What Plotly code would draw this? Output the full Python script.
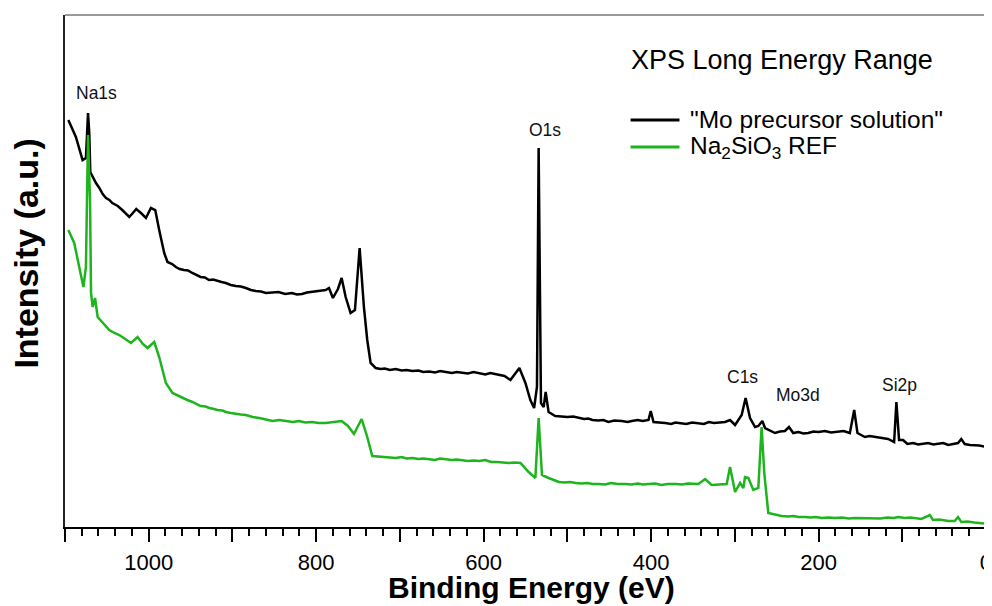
import plotly.graph_objects as go

# ---------------- data ----------------
mo_energy = [1096, 1087, 1079, 1075, 1072.5, 1071, 1069.8, 1067, 1063, 1059, 1055, 1051, 1047, 1043.5,
             1037, 1031.6, 1027, 1023.2, 1019, 1014.9, 1009.3, 1003.3, 997.4, 992.2, 987.5, 981.5, 977.6,
             972, 967.6, 963, 958, 953, 948, 943, 938, 933, 928, 923, 918, 913, 908, 902, 896, 890, 884,
             878, 872, 866, 860, 853, 845, 837, 829, 823, 817, 811, 805,
             797, 788.7, 784.7, 780, 774, 769.6, 764.8, 758.9, 753.7, 748.1, 743, 739, 735, 729, 723, 718,
             712, 705, 698, 692, 685, 678, 672, 665, 658, 652, 645, 638, 632, 626, 619, 612, 605, 598, 592,
             586, 580, 575, 568, 557.3, 550.1, 544.2, 539.7, 536.3, 534.3, 531.5,
             528.3, 525.9, 522.4, 514.4, 507, 500, 493, 487, 480, 475, 470, 463, 457, 451, 444, 435, 428,
             423, 416, 410, 403.1, 400.4, 397.1, 383.2, 376, 371, 365, 358, 351, 343.5, 337, 331, 325, 318,
             311.6, 305.7, 299.7, 291.8, 287.1, 281.8, 275.8, 271.9, 267.1, 263.9, 252, 246,
             240.1, 235.3, 230.2, 224, 218, 212.3, 206, 200, 192.4, 185, 176.5, 170, 162.6, 157.4, 153.5,
             144.7, 139, 132.7, 125, 116.9, 109.7,
             107, 103.8, 99, 93.9, 87, 81, 75, 69, 63, 57.2, 51, 45, 40, 33.4, 29.5, 25.4, 19, 13.5, 8, 2,
             -4.4]
mo_intensity = [407, 390, 367, 369, 414, 394, 355, 350, 344, 339, 333, 329, 327, 324,
                321, 317, 313, 310, 314, 318, 314, 309, 319, 317, 297, 274, 265,
                263, 260, 258, 257, 256.5, 254, 252, 250, 249.5, 247, 247.5, 246, 245, 244, 242, 241, 240.5, 239,
                237, 236, 235.5, 234, 234.5, 235, 233, 234, 232.5, 233, 234.5, 235,
                236, 237, 239, 229, 238, 249, 230, 214, 217, 279, 220, 187, 164, 159, 158, 158.5,
                157, 158, 156.5, 157, 156, 156.5, 155, 155.5, 154.5, 156, 155, 154, 155, 154, 153.5, 155, 154, 152.5, 154,
                153, 152, 151, 147, 159, 144, 127, 119, 140, 379, 124,
                120, 135, 115, 111, 110.5, 110, 110.5, 109, 108, 108.5, 107, 106.5, 107, 105, 106.5, 106, 105,
                106, 107, 106, 107, 116, 105, 104, 103, 104.5, 104, 103, 104.5, 104, 103, 105, 104, 104.5,
                105, 107, 102, 112, 129, 109, 100, 101, 106, 99, 94, 95.5,
                96, 100, 94, 95, 93.5, 94, 95.5, 95, 96, 94.5, 95, 96, 94, 117, 94,
                90, 91, 90, 89.5, 88, 85,
                125, 87, 87, 83, 84, 82.5, 83, 84, 82.5, 83, 84, 82, 83, 84, 88, 83, 82, 82, 81.5, 80.5,
                80]

ref_energy = [1096, 1089, 1083, 1078, 1075, 1072.5, 1070.1, 1068.9, 1067, 1064.1, 1061, 1054, 1047.1, 1041,
              1035.2, 1028, 1021.2, 1013.3, 1007, 1001.4, 993.4, 987.5, 979.5, 971.6, 960, 954, 947.8, 942,
              938, 932, 927.8, 922, 918, 912, 907.9, 902, 896, 890, 884, 876, 868, 860, 852, 844, 836, 828,
              820.5, 813, 805, 797, 788.7, 779, 769.6, 762, 754.9,
              745.7, 739, 733, 726, 720, 713, 705, 698, 692, 685, 678, 672, 665, 658, 652, 645, 638, 632,
              625.8, 619, 612, 605, 598, 591, 584, 577, 570, 563, 556, 546.2,
              538.2, 534.3, 530.3, 522.4, 510, 503, 497, 490, 483, 476, 470, 462.7, 455, 448, 440, 430, 423,
              416, 410, 403, 395, 388, 380, 370, 363, 356, 350, 343.5, 335.5, 327.6, 309.7,
              305.7, 299.7, 293.7, 289.8, 287.8, 283.8, 277.9, 271.9, 268, 264.8, 260, 244, 236, 230, 224,
              216, 210, 203, 196, 188, 180, 172, 164, 156.6, 150, 142, 134, 126, 118, 110,
              104.9, 97, 90, 83, 77.2, 67.1, 63.2, 56, 50, 45, 37.3, 33.4, 29.5, 22, 14, 5.6, -4.4]
ref_intensity = [297, 284, 260, 240, 260, 392, 327, 234, 220, 229, 210, 203, 197, 194,
                 192, 188, 184, 190, 183, 179, 185, 170, 144, 134, 129, 127, 125, 123,
                 121, 120.5, 119, 118, 117, 116.5, 115, 114, 113, 112.5, 112, 110, 109, 107.5, 106, 107, 106, 105,
                 106, 104.5, 105, 104, 104, 105, 106, 101, 93,
                 108, 90, 71, 70.5, 70, 69, 69, 70, 68.5, 69, 68, 68.5, 68, 67, 68.5, 68, 67, 67.5,
                 67, 66, 66.5, 66, 67, 65, 65, 64.5, 64, 64.5, 64, 55,
                 49, 109, 52, 49, 45, 44.5, 45, 44, 43.5, 44, 43, 43, 42.5, 44, 43, 43, 42.5,
                 43.5, 42.5, 43, 43.5, 42, 43, 43, 42.5, 43.5, 43, 43, 48, 42, 43,
                 60, 35, 44, 39, 50, 49, 37, 39, 100, 54, 14, 11, 10.5, 11, 10,
                 10, 9.5, 10, 9, 9.5, 9, 9.5, 8.5, 9, 9, 8.5, 9, 8.5, 9.5, 9,
                 10, 9, 9.5, 8.5, 8, 12, 7, 7.5, 6.5, 6, 6, 10, 5, 5.5, 4.5, 4, 3]

series_names = ['"Mo precursor solution"', 'Na<sub>2</sub>SiO<sub>3</sub> REF']
series_colors = ['#000000', '#1DB41D']

peak_labels = ['Na1s', 'O1s', 'C1s', 'Mo3d', 'Si2p']
peak_label_x = [1062.6, 527.1, 291.0, 224.8, 103.2]
peak_label_y = [434, 397, 150, 132, 142]

tick_values = [0, 100, 200, 300, 400, 500, 600, 700, 800, 900, 1000, 1100]
tick_texts = ['0', '', '200', '', '400', '', '600', '', '800', '', '1000', '']

FONT = 'Liberation Sans, Arial, sans-serif'

fig = go.Figure()
fig.add_trace(go.Scatter(x=mo_energy, y=mo_intensity, mode='lines', name=series_names[0],
                         line=dict(color=series_colors[0], width=2.5), showlegend=False))
fig.add_trace(go.Scatter(x=ref_energy, y=ref_intensity, mode='lines', name=series_names[1],
                         line=dict(color=series_colors[1], width=2.5), showlegend=False))

annotations = []
for t, x, y in zip(peak_labels, peak_label_x, peak_label_y):
    annotations.append(dict(x=x, y=y, xref='x', yref='y', text=t, showarrow=False,
                            font=dict(family=FONT, size=17.5, color='#111')))

# legend block (drawn manually)
annotations.append(dict(x=0.6093, y=0.912, xref='paper', yref='paper', text='XPS Long Energy Range',
                        showarrow=False, xanchor='left', yanchor='middle',
                        font=dict(family=FONT, size=27, color='#000')))
legend_y = [0.795, 0.742]
shapes = []
for name, col, ly in zip(series_names, series_colors, legend_y):
    shapes.append(dict(type='line', xref='paper', yref='paper', x0=0.6114, x1=0.6643, y0=ly, y1=ly,
                       line=dict(color=col, width=3)))
    annotations.append(dict(x=0.674, y=ly, xref='paper', yref='paper', text=name, showarrow=False,
                            xanchor='left', yanchor='middle',
                            font=dict(family=FONT, size=24.5, color='#000')))

# top frame line
shapes.append(dict(type='line', xref='paper', yref='paper', x0=0, x1=1, y0=1, y1=1,
                   line=dict(color='#7a7a7a', width=1.5)))

# axis titles
annotations.append(dict(x=0.5046, y=-0.119, xref='paper', yref='paper', text='<b>Binding Energy (eV)</b>',
                        showarrow=False, xanchor='center', yanchor='middle',
                        font=dict(family=FONT, size=30, color='#000')))
annotations.append(dict(x=-0.0416, y=0.533, xref='paper', yref='paper', text='<b>Intensity (a.u.)</b>',
                        showarrow=False, xanchor='center', yanchor='middle', textangle=-90,
                        font=dict(family=FONT, size=34, color='#000')))

# the page body adds an 8 px margin, so the figure is 8 px smaller on each side
fig.update_layout(
    width=984, height=598,
    margin=dict(l=57, r=0, t=7, b=79),
    paper_bgcolor='white', plot_bgcolor='white',
    annotations=annotations, shapes=shapes,
    showlegend=False,
)
fig.update_xaxes(range=[1100, -4.8], showgrid=False, zeroline=False, showline=True,
                 linecolor='#000', linewidth=1.5, ticks='outside', ticklen=13, tickwidth=1.5,
                 tickcolor='#000', tickmode='array', tickvals=tick_values, ticktext=tick_texts,
                 ticklabelstandoff=2, ticklabeloverflow='allow',
                 tickfont=dict(family=FONT, size=22, color='#000'),
                 minor=dict(dtick=20, tick0=0, ticks='outside', ticklen=7, tickwidth=1.5, tickcolor='#000'))
fig.update_yaxes(range=[0, 512], showgrid=False, zeroline=False, showline=True,
                 linecolor='#222', linewidth=1.5, ticks='', showticklabels=False)

fig.write_html('out.html')
